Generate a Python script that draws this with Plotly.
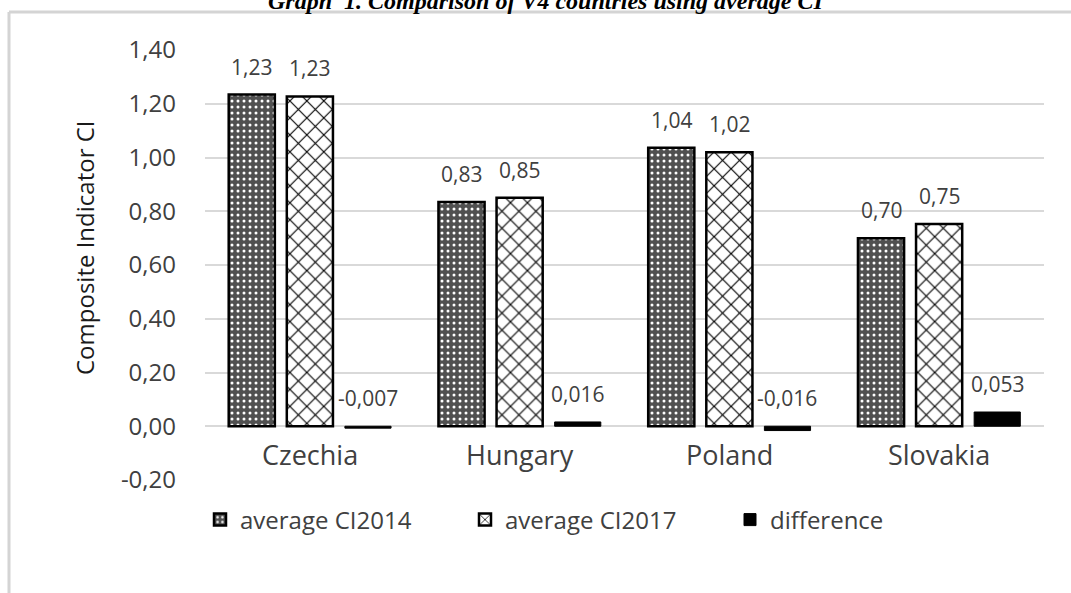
import plotly.graph_objects as go

# V4 countries and average composite indicator values
countries = ["Czechia", "Hungary", "Poland", "Slovakia"]
ci_2014 = [1.234, 0.834, 1.036, 0.700]
ci_2017 = [1.227, 0.850, 1.020, 0.753]
difference = [-0.007, 0.016, -0.016, 0.053]

y_tick_values = [-0.2, 0.0, 0.2, 0.4, 0.6, 0.8, 1.0, 1.2, 1.4]
y_tick_labels = ["-0,20", "0,00", "0,20", "0,40", "0,60", "0,80", "1,00", "1,20", "1,40"]

FONT = "Open Sans"
TXT = "#404040"

W, H = 1071, 593
ML, MR, MT, MB = 205, 27, 50, 113
PW, PH = W - ML - MR, H - MT - MB


def px_x(p):
    return (p - ML) / PW


def px_y(p):
    return (H - MB - p) / PH


def fmt(v, d):
    return f"{v:.{d}f}".replace(".", ",")


bar_w = 0.22
step = 0.277
offsets = [-step - bar_w / 2, -bar_w / 2, step - bar_w / 2]
xs = list(range(len(countries)))

series = [
    dict(name="average CI2014", y=ci_2014, dec=2,
         marker=dict(color="#555555",
                     pattern=dict(shape=".", bgcolor="#505050", fgcolor="white",
                                  size=6, solidity=0.2, fillmode="replace"),
                     line=dict(color="black", width=2.5))),
    dict(name="average CI2017", y=ci_2017, dec=2,
         marker=dict(color="white",
                     pattern=dict(shape="x", bgcolor="white", fgcolor="black",
                                  size=12, solidity=0.18, fillmode="replace"),
                     line=dict(color="black", width=2.5))),
    dict(name="difference", y=difference, dec=3,
         marker=dict(color="black", line=dict(color="black", width=1))),
]

fig = go.Figure()
annotations = []
for s, off in zip(series, offsets):
    fig.add_trace(go.Bar(
        name=s["name"], x=xs, y=s["y"], width=bar_w, offset=off,
        marker=s["marker"], hoverinfo="skip",
    ))
    for i, v in zip(xs, s["y"]):
        annotations.append(dict(
            x=i + off + bar_w / 2, y=max(v, 0), xref="x", yref="y",
            text=fmt(v, s["dec"]), showarrow=False, yanchor="bottom",
            yshift=12, font=dict(family=FONT, size=21, color=TXT),
        ))

# category names sit just below the zero line
for i, c in zip(xs, countries):
    annotations.append(dict(
        x=i, y=0, xref="x", yref="y", text=c, showarrow=False,
        yanchor="top", yshift=-8, font=dict(family=FONT, size=27, color=TXT),
    ))

# axis title
annotations.append(dict(
    x=px_x(85), y=px_y(248), xref="paper", yref="paper",
    text="Composite Indicator CI", textangle=-90, showarrow=False,
    xanchor="center", yanchor="middle",
    font=dict(family=FONT, size=24, color="#1a1a1a"),
))

# heading
annotations.append(dict(
    x=px_x(546), y=px_y(16), xref="paper", yref="paper",
    text="<b><i>Graph  1. Comparison of V4 countries using average CI</i></b>",
    showarrow=False, xanchor="center", yanchor="bottom",
    font=dict(family="Liberation Serif", size=24, color="black"),
))

shapes = [
    dict(type="line", xref="paper", yref="paper",
         x0=px_x(9), x1=px_x(W), y0=px_y(12), y1=px_y(12),
         line=dict(color="#d4d4d4", width=3)),
    dict(type="line", xref="paper", yref="paper",
         x0=px_x(9), x1=px_x(9), y0=px_y(12), y1=px_y(H + 5),
         line=dict(color="#d4d4d4", width=3)),
]

fig.update_layout(
    width=W, height=H,
    margin=dict(l=ML, r=MR, t=MT, b=MB),
    paper_bgcolor="white", plot_bgcolor="white",
    barmode="overlay",
    showlegend=True,
    legend=dict(orientation="h", x=px_x(200), y=px_y(520),
                xanchor="left", yanchor="middle",
                entrywidth=220, entrywidthmode="pixels",
                font=dict(family=FONT, size=24, color=TXT),
                bgcolor="rgba(0,0,0,0)"),
    xaxis=dict(range=[-0.5, 3.5], showticklabels=False, showgrid=False,
               zeroline=False, showline=False, ticks=""),
    yaxis=dict(range=[-0.2, 1.4], tickvals=y_tick_values, ticktext=y_tick_labels,
               showgrid=True, gridcolor="#d9d9d9", gridwidth=1.5,
               zeroline=False, showline=False, ticks="",
               ticklabelstandoff=28,
               tickfont=dict(family=FONT, size=24, color=TXT)),
    annotations=annotations,
    shapes=shapes,
)

fig.write_html("out.html")
